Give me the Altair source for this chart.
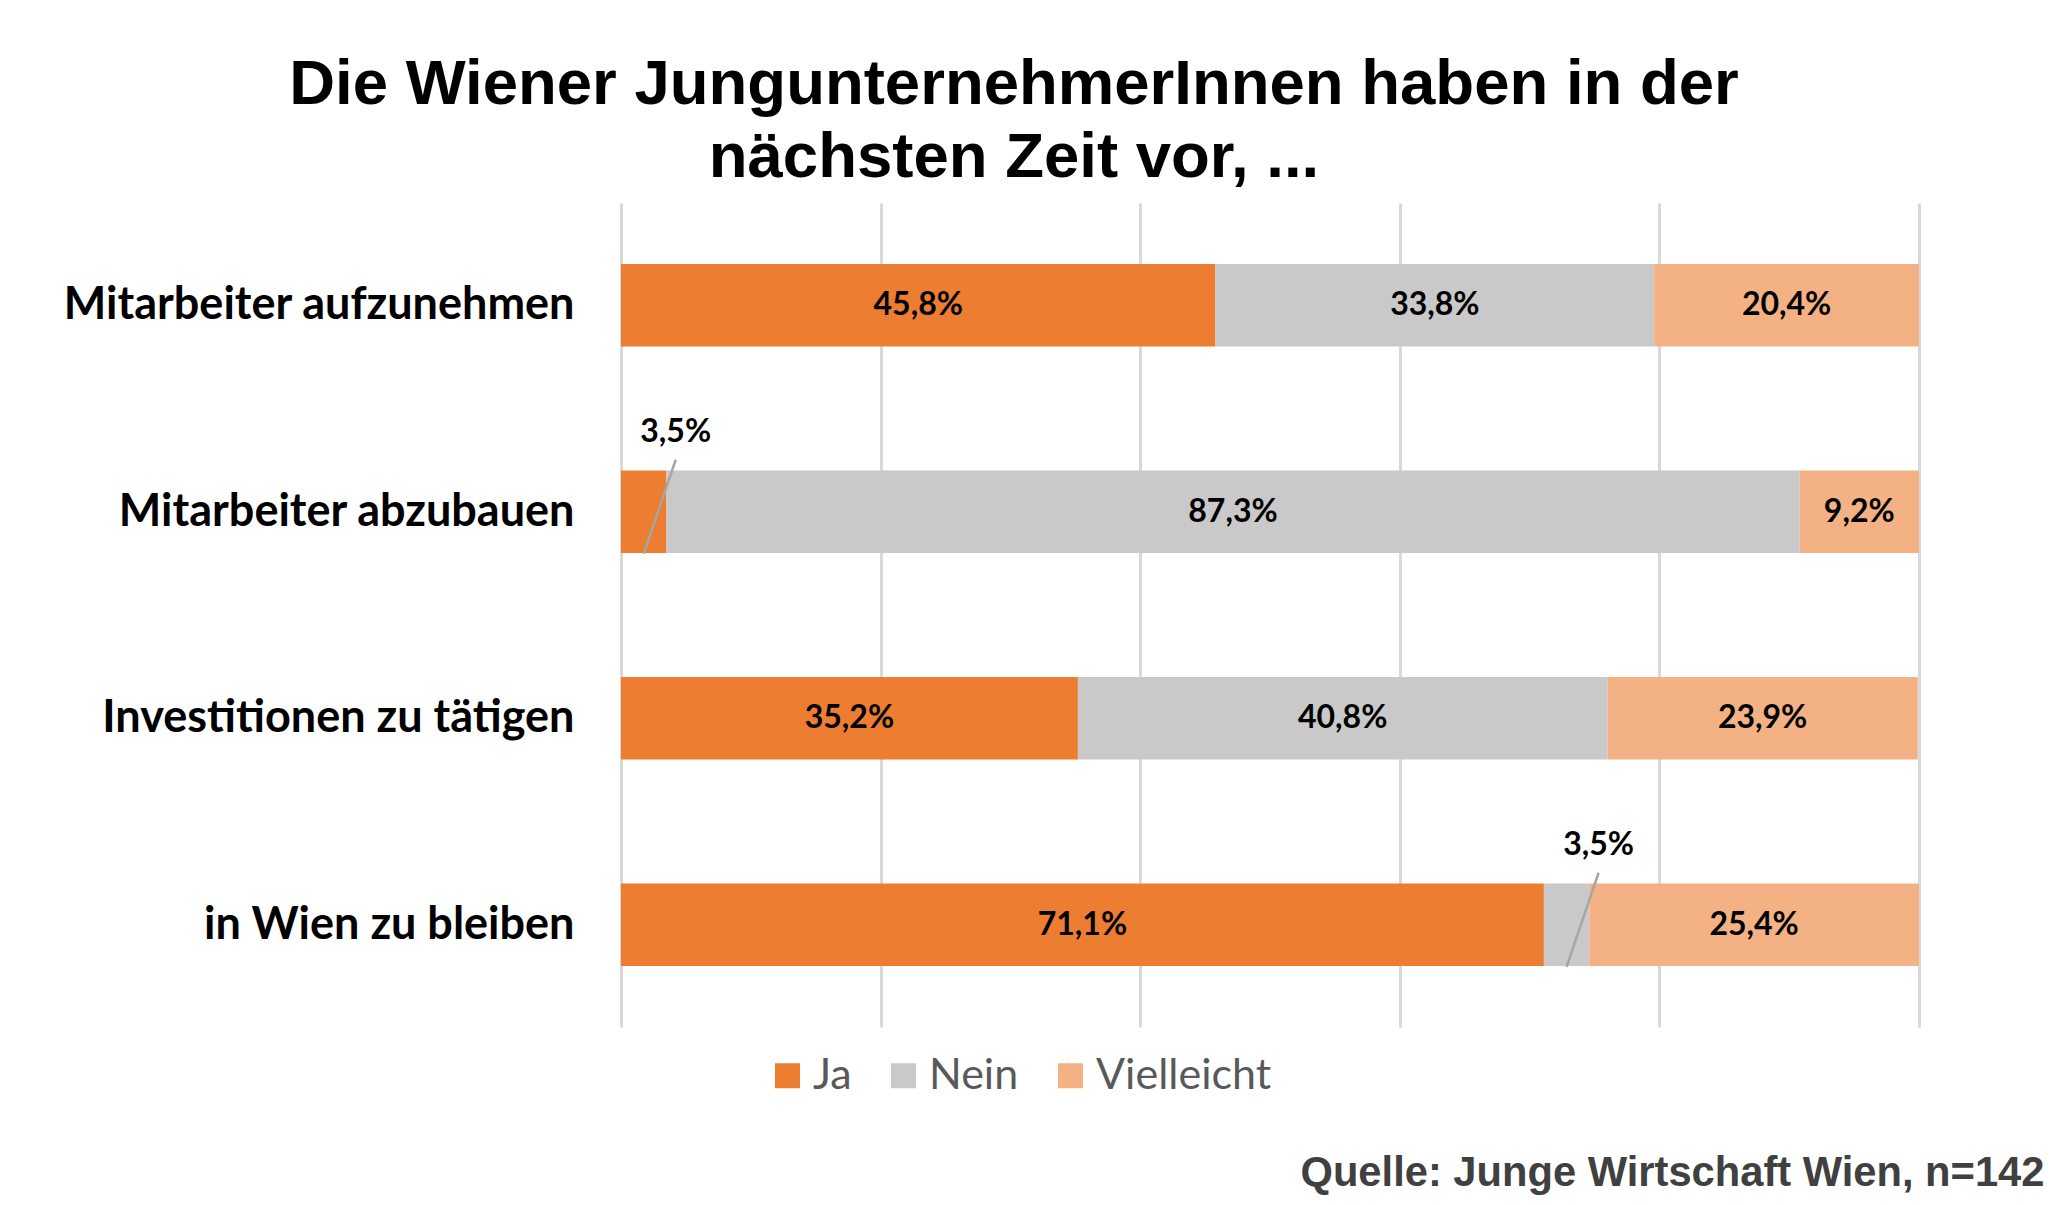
import altair as alt
import pandas as pd

categories = ["Mitarbeiter aufzunehmen", "Mitarbeiter abzubauen",
              "Investitionen zu tätigen", "in Wien zu bleiben"]
answers = ["Ja", "Nein", "Vielleicht"]
ja = [45.8, 3.5, 35.2, 71.1]
nein = [33.8, 87.3, 40.8, 3.5]
vielleicht = [20.4, 9.2, 23.9, 25.4]
colors = ["#ED7D31", "#C9C9C9", "#F4B183"]
title_lines = ["Die Wiener JungunternehmerInnen haben in der", "nächsten Zeit vor, ..."]
source_text = "Quelle: Junge Wirtschaft Wien, n=142"
grid_values = [0, 20, 40, 60, 80, 100]

rows = []
for i, c in enumerate(categories):
    for k, (a, vals) in enumerate(zip(answers, [ja, nein, vielleicht])):
        v = vals[i]
        rows.append({"Kategorie": c, "Antwort": a, "order": k, "value": v,
                     "label": f"{v:.1f}".replace(".", ",") + "%",
                     "small": bool(v < 5)})
df = pd.DataFrame(rows)

base = alt.Chart(df).transform_stack(
    stack="value", as_=["start", "end"], groupby=["Kategorie"],
    sort=[alt.SortField("order", order="ascending")]
).transform_calculate(mid="(datum.start + datum.end) / 2")

yscale = alt.Scale(domain=categories, paddingInner=0.6, paddingOuter=0.295)
xscale = alt.Scale(domain=[0, 100], nice=False, zero=True)

x_axis = alt.Axis(values=grid_values, labels=False, ticks=False, domain=False,
                  grid=True, gridColor="#D9D9D9", gridWidth=3,
                  titleX=1423, titleY=158,
                  titleAlign="right", titleBaseline="alphabetic",
                  titleFont="Liberation Sans", titleFontSize=41.7,
                  titleFontWeight="bold", titleColor="#404040")
y_axis = alt.Axis(labelFont="Lato", labelFontSize=45, labelFontWeight="bold",
                  labelColor="#000000", labelPadding=47, labelLimit=1000,
                  ticks=False, domain=False, grid=False)

y_enc = alt.Y("Kategorie:N", sort=categories, scale=yscale, title=None, axis=y_axis)


def x_enc(field):
    return alt.X(field, scale=xscale, title=source_text, axis=x_axis)


bars = base.mark_bar(strokeWidth=0).encode(
    x=x_enc("start:Q"),
    x2="end:Q",
    y=y_enc,
    color=alt.Color("Antwort:N", sort=answers,
                    scale=alt.Scale(domain=answers, range=colors),
                    legend=alt.Legend(orient="none", legendX=145, legendY=851,
                                      direction="horizontal", title=None,
                                      symbolType="square", symbolSize=625,
                                      symbolStrokeWidth=0, symbolOpacity=1,
                                      labelFont="Lato", labelFontSize=43,
                                      labelColor="#595959", labelOffset=4,
                                      labelLimit=500, columnPadding=30)),
)

inside = base.transform_filter("!datum.small").mark_text(
    font="Lato", fontSize=32, fontWeight="bold", color="#000000",
    align="center", baseline="middle"
).encode(x=x_enc("mid:Q"), y=y_enc, text="label:N")

outside = base.transform_filter("datum.small").mark_text(
    font="Lato", fontSize=32, fontWeight="bold", color="#000000",
    align="center", baseline="middle", dx=32, dy=-80
).encode(x=x_enc("mid:Q"), y=y_enc, text="label:N")

leaders = base.transform_filter("datum.small").mark_rule(
    color="#A6A6A6", strokeWidth=2.5, yOffset=42, y2Offset=-52, x2Offset=32
).encode(x=x_enc("mid:Q"), x2=alt.X2("mid:Q"),
         y=y_enc, y2=alt.Y2("Kategorie"))

chart = alt.layer(bars, inside, leaders, outside).properties(
    width=1298, height=824,
    title=alt.TitleParams(text=title_lines, font="Liberation Sans", fontSize=63.5,
                          fontWeight="bold", color="#000000", anchor="middle",
                          frame="group", dx=-256, dy=62, offset=12, lineHeight=73,
                          baseline="bottom"),
    autosize=alt.AutoSizeParams(type="none"),
    padding={"left": 613, "top": 195, "right": 133, "bottom": 170},
    background="#FFFFFF",
).configure_view(stroke=None)

chart.save("out.html", embed_options={"renderer": "svg", "actions": False})
